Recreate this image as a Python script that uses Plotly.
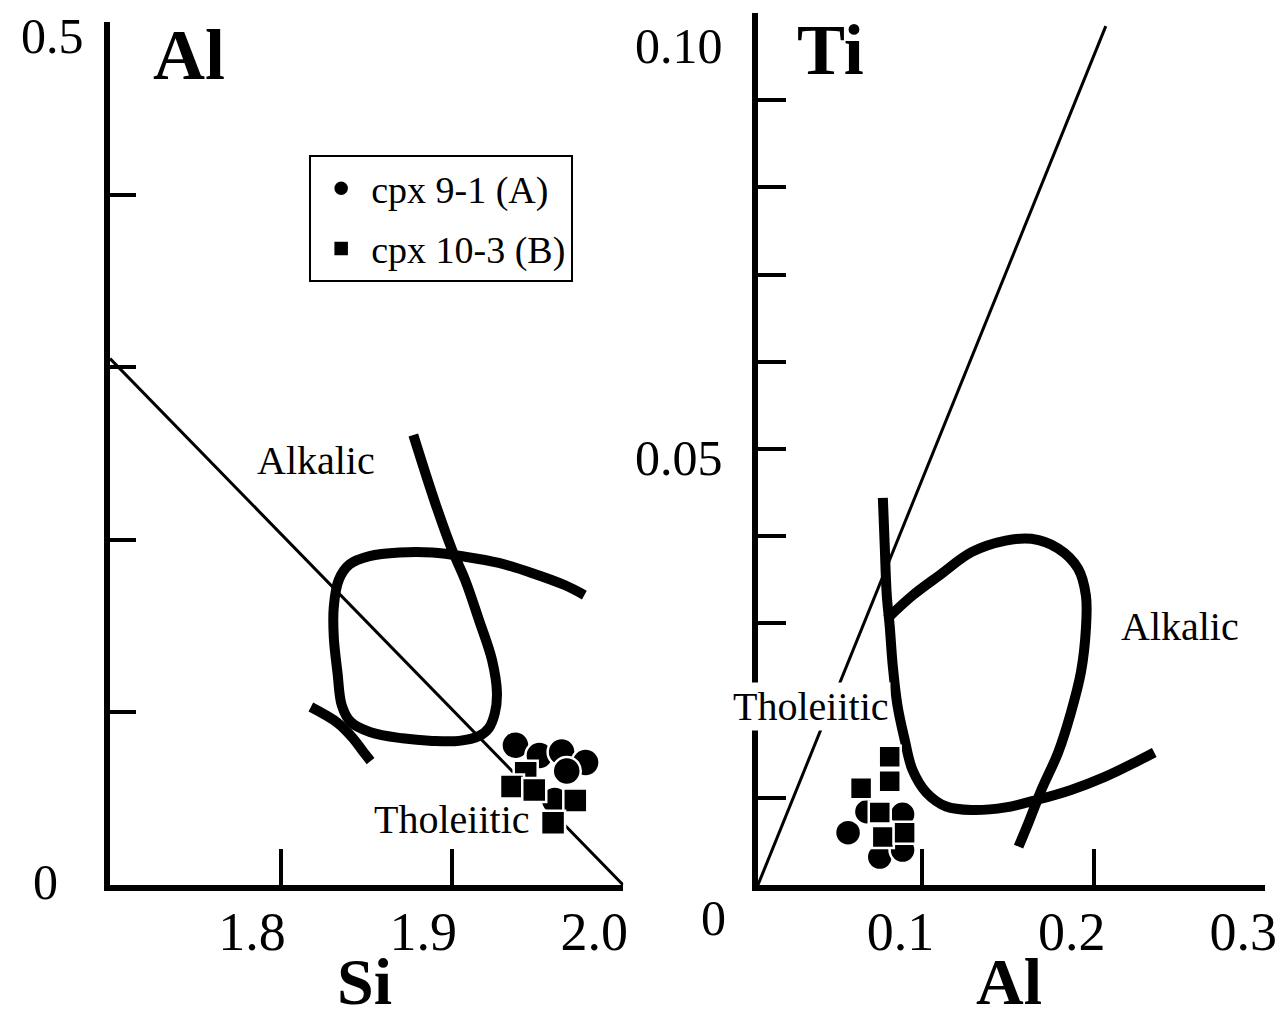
import plotly.graph_objects as go

W, H = 1285, 1015
DY = 8  # page is rendered 8 px lower than the figure origin
SERIF = "Liberation Serif, Times New Roman, serif"


def py(p):
    """page pixel row -> paper fraction"""
    return 1 - (p - DY) / H


def px(p):
    return p / W


# ---------------- data: left panel (Si vs Al) ----------------
si_ticks = [1.8, 1.9, 2.0]
al_left_ticks = [0.1, 0.2, 0.3, 0.4, 0.5]

cpxA_si = [1.937, 1.951, 1.964, 1.978, 1.967, 1.960]
cpxA_al = [0.081, 0.075, 0.077, 0.071, 0.066, 0.049]
cpxB_si = [1.943, 1.935, 1.948, 1.972, 1.959]
cpxB_al = [0.065, 0.057, 0.055, 0.049, 0.036]

line_left_si = [1.70, 2.00]
line_left_al = [0.305, 0.0]

loop_left_si = [1.8773, 1.8901, 1.9000, 1.9076, 1.9157, 1.9233, 1.9262, 1.9250, 1.9215,
                1.9157, 1.9041, 1.8884, 1.8709, 1.8523, 1.8407, 1.8355, 1.8330, 1.8308,
                1.8308, 1.8337, 1.8400, 1.8517, 1.8692, 1.8884, 1.9076, 1.9273, 1.9465,
                1.9657, 1.9773]
loop_left_al = [0.2607, 0.2213, 0.1941, 0.1767, 0.1535, 0.1304, 0.1112, 0.0997, 0.0910,
                0.0863, 0.0835, 0.0835, 0.0850, 0.0885, 0.0945, 0.1040, 0.1228, 0.1437,
                0.1611, 0.1767, 0.1857, 0.1905, 0.1926, 0.1926, 0.1902, 0.1866, 0.1808,
                0.1738, 0.1680]
seg_left_si = [1.8174, 1.8331, 1.8419, 1.8477, 1.8523]
seg_left_al = [0.1031, 0.0939, 0.0852, 0.0776, 0.0718]

# ---------------- data: right panel (Al vs Ti) ----------------
al_ticks = [0.1, 0.2, 0.3]
ti_ticks = [0.01, 0.02, 0.03, 0.04, 0.05, 0.06, 0.07, 0.08, 0.09, 0.10]

cpxA_al_r = [0.0566, 0.0676, 0.0884, 0.0751, 0.0884]
cpxA_ti_r = [0.0060, 0.0084, 0.0081, 0.0032, 0.0040]
cpxB_al_r = [0.0809, 0.0809, 0.0642, 0.0751, 0.0769, 0.0896]
cpxB_ti_r = [0.0147, 0.0119, 0.0111, 0.0083, 0.0055, 0.0060]

line_right_al = [0.004, 0.207]
line_right_ti = [0.0, 0.0985]

curve1_al = [0.0769, 0.0780, 0.0792, 0.0809, 0.0827, 0.0855, 0.0896, 0.0942, 0.1023,
             0.1139, 0.1289, 0.1486, 0.1676, 0.1867, 0.2064, 0.2254, 0.2353]
curve1_ti = [0.0444, 0.0389, 0.0332, 0.0297, 0.0251, 0.0205, 0.0167, 0.0132, 0.0106,
             0.0090, 0.0086, 0.0089, 0.0098, 0.0109, 0.0124, 0.0142, 0.0152]
curve2_al = [0.0792, 0.0942, 0.1098, 0.1289, 0.1486, 0.1636, 0.1792, 0.1908, 0.1954,
             0.1954, 0.1925, 0.1867, 0.1792, 0.1694, 0.1618, 0.1561]
curve2_ti = [0.0305, 0.0332, 0.0355, 0.0382, 0.0395, 0.0397, 0.0386, 0.0363, 0.0332,
             0.0294, 0.0244, 0.0198, 0.0152, 0.0109, 0.0071, 0.0044]

fig = go.Figure()

thin = dict(color="black", width=3)
thick = dict(color="black", width=10, shape="spline", smoothing=1.0)

# left panel lines
fig.add_trace(go.Scatter(x=line_left_si, y=line_left_al, mode="lines", line=thin,
                         xaxis="x", yaxis="y", showlegend=False, hoverinfo="skip"))
fig.add_trace(go.Scatter(x=loop_left_si, y=loop_left_al, mode="lines", line=thick,
                         xaxis="x", yaxis="y", showlegend=False, hoverinfo="skip"))
fig.add_trace(go.Scatter(x=seg_left_si, y=seg_left_al, mode="lines", line=thick,
                         xaxis="x", yaxis="y", showlegend=False, hoverinfo="skip"))
# left points
fig.add_trace(go.Scatter(x=cpxA_si, y=cpxA_al, mode="markers", name="cpx 9-1 (A)",
                         legendgroup="A",
                         marker=dict(symbol="circle", size=28, color="black",
                                     line=dict(color="white", width=2.5)),
                         xaxis="x", yaxis="y"))
fig.add_trace(go.Scatter(x=cpxB_si, y=cpxB_al, mode="markers", name="cpx 10-3 (B)",
                         legendgroup="B",
                         marker=dict(symbol="square", size=24, color="black",
                                     line=dict(color="white", width=2.5)),
                         xaxis="x", yaxis="y"))

# right panel lines
fig.add_trace(go.Scatter(x=line_right_al, y=line_right_ti, mode="lines", line=thin,
                         xaxis="x2", yaxis="y2", showlegend=False, hoverinfo="skip"))
fig.add_trace(go.Scatter(x=curve1_al, y=curve1_ti, mode="lines", line=thick,
                         xaxis="x2", yaxis="y2", showlegend=False, hoverinfo="skip"))
fig.add_trace(go.Scatter(x=curve2_al, y=curve2_ti, mode="lines", line=thick,
                         xaxis="x2", yaxis="y2", showlegend=False, hoverinfo="skip"))
fig.add_trace(go.Scatter(x=cpxA_al_r, y=cpxA_ti_r, mode="markers", name="cpx 9-1 (A)",
                         legendgroup="A",
                         marker=dict(symbol="circle", size=26, color="black",
                                     line=dict(color="white", width=2.5)),
                         xaxis="x2", yaxis="y2", showlegend=False))
fig.add_trace(go.Scatter(x=cpxB_al_r, y=cpxB_ti_r, mode="markers", name="cpx 10-3 (B)",
                         legendgroup="B",
                         marker=dict(symbol="square", size=22, color="black",
                                     line=dict(color="white", width=2.5)),
                         xaxis="x2", yaxis="y2", showlegend=False))

axis_common = dict(showline=True, linecolor="black", linewidth=6, showgrid=False,
                   zeroline=False, ticks="inside", tickcolor="black", tickwidth=4)

fig.update_layout(
    width=W, height=H,
    margin=dict(l=0, r=0, t=0, b=0),
    paper_bgcolor="white", plot_bgcolor="white",
    font=dict(family=SERIF, color="black"),
    xaxis=dict(axis_common, domain=[px(103), px(621)], range=[1.7, 2.0],
               tickvals=si_ticks, ticktext=["1.8", "1.9", "2.0"], ticklen=36,
               tickfont=dict(size=54, family=SERIF), ticklabelshift=-29,
               ticklabelstandoff=-6, anchor="y"),
    yaxis=dict(axis_common, domain=[py(885), py(22)], range=[0, 0.5],
               tickvals=al_left_ticks, ticklen=26, showticklabels=False, anchor="x"),
    xaxis2=dict(axis_common, domain=[px(757), px(1269)], range=[0.004, 0.3],
                tickvals=al_ticks, ticktext=["0.1", "0.2", "0.3"], ticklen=36,
                tickfont=dict(size=54, family=SERIF), ticklabelshift=-22,
                ticklabelstandoff=-6, anchor="y2"),
    yaxis2=dict(axis_common, domain=[py(885), py(13)], range=[0, 0.10],
                tickvals=ti_ticks, ticklen=28, showticklabels=False, anchor="x2"),
    legend=dict(x=px(304), y=py(155), xanchor="left", yanchor="top",
                bgcolor="white", bordercolor="black", borderwidth=2,
                font=dict(size=38, family=SERIF, color="black"),
                traceorder="grouped", tracegroupgap=8, itemwidth=50),
    showlegend=True,
)

ann = []
big = dict(showarrow=False, xanchor="center", yanchor="middle", xref="paper",
           yref="paper", font=dict(size=72, family=SERIF, weight="bold"))
bottom_font = dict(size=66, family=SERIF, weight="bold")
# axis names
ann.append(dict(big, text="Al", x=px(183), y=py(55)))
ann.append(dict(big, text="Ti", x=px(830), y=py(50)))
ann.append(dict(big, text="Si", x=px(360), y=py(981), font=bottom_font))
ann.append(dict(big, text="Al", x=px(1010), y=py(981), font=bottom_font))
# y tick labels
ylab = dict(showarrow=False, xref="paper", yref="paper", xanchor="center",
            yanchor="middle", font=dict(size=50, family=SERIF))
ann.append(dict(ylab, text="0.5", x=px(45), y=py(36)))
ann.append(dict(ylab, text="0", x=px(38), y=py(882)))
ann.append(dict(ylab, text="0.10", x=px(677), y=py(46)))
ann.append(dict(ylab, text="0.05", x=px(677), y=py(458)))
ann.append(dict(ylab, text="0", x=px(712), y=py(918)))
# field labels
fl = dict(showarrow=False, xanchor="center", yanchor="middle",
          font=dict(size=40, family=SERIF))
ann.append(dict(fl, text="Alkalic", x=1.8203, y=0.2462, xref="x", yref="y"))
ann.append(dict(fl, text="Tholeiitic", x=1.9000, y=0.0377, xref="x", yref="y"))
ann.append(dict(fl, text="Tholeiitic", x=0.0347, y=0.0205, xref="x2", yref="y2",
                bgcolor="white"))
ann.append(dict(fl, text="Alkalic", x=0.2503, y=0.0297, xref="x2", yref="y2"))
fig.update_layout(annotations=ann)

fig.write_html("out.html")
